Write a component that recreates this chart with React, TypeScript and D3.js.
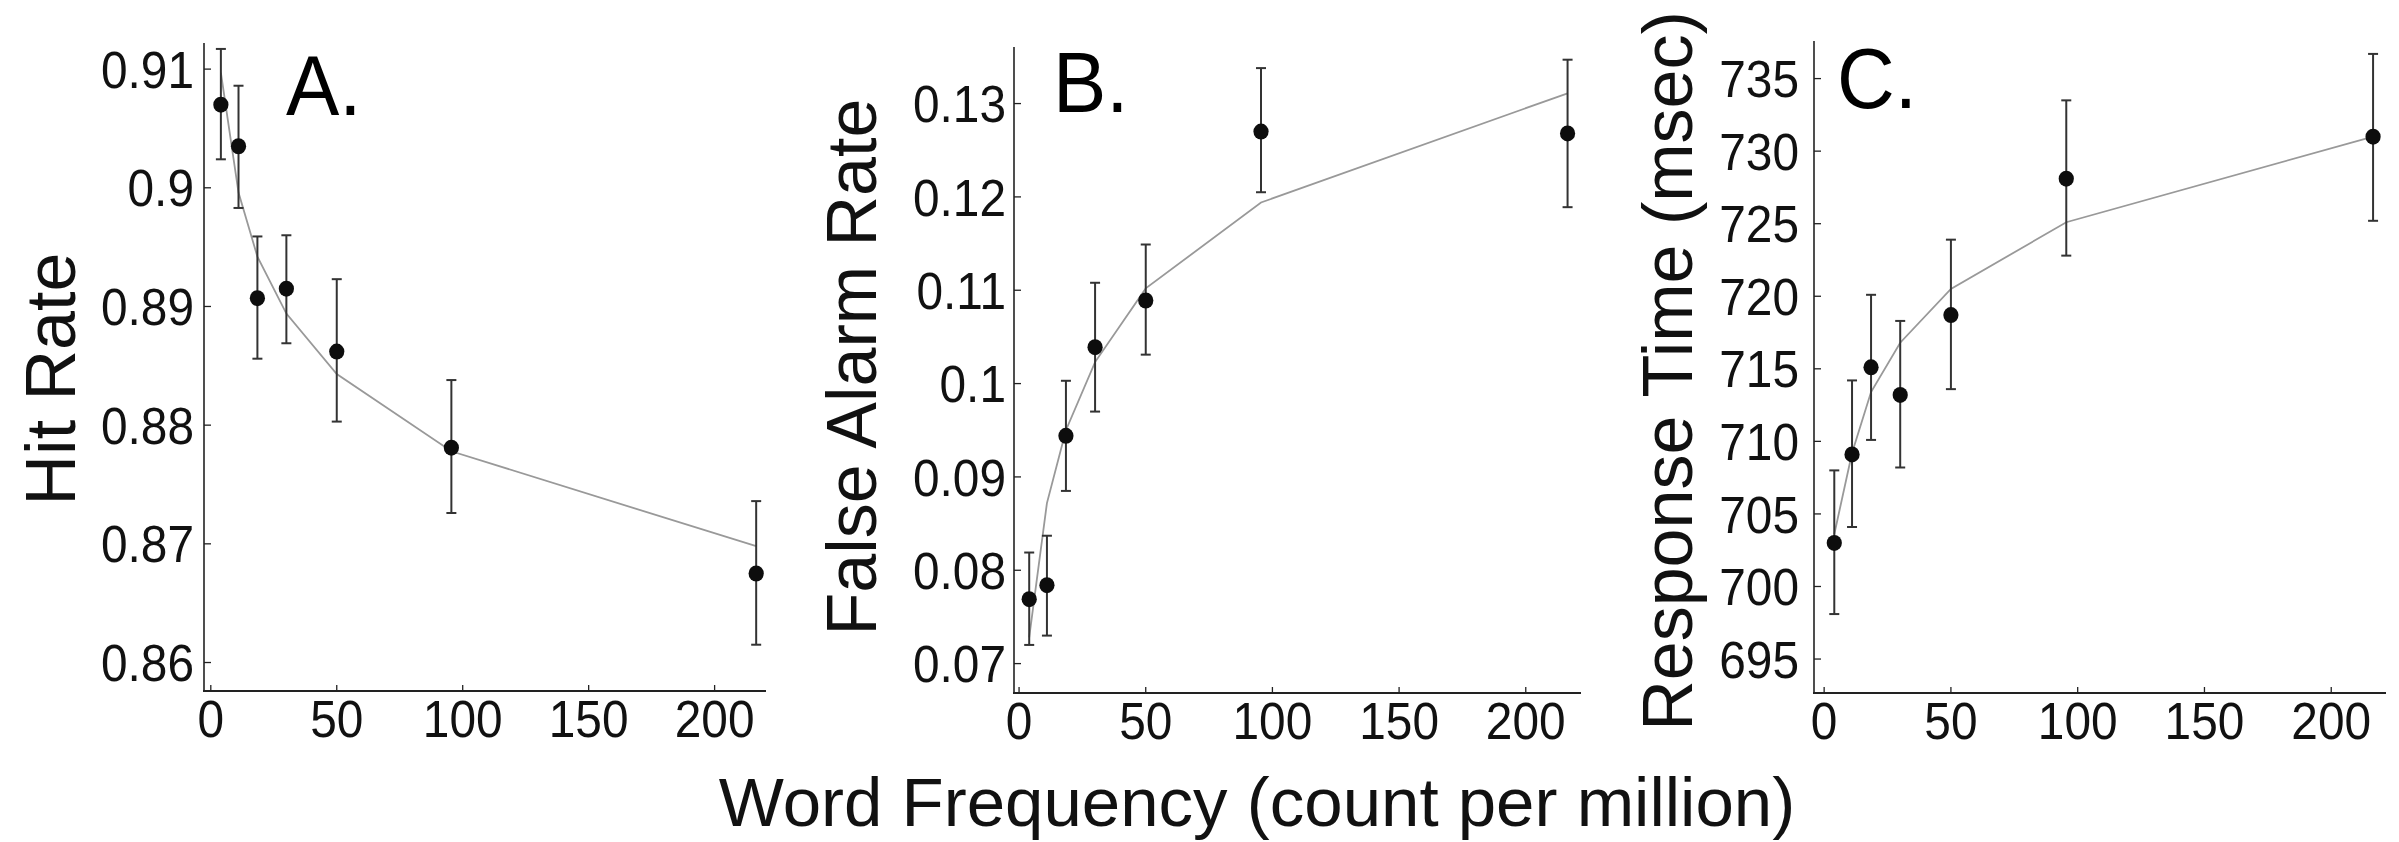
import React from 'react';
import * as d3 from 'd3';

// ---- data ----
const freq = [4, 11, 18.5, 30, 50, 95.5, 216.5];
const xTicks = [0, 50, 100, 150, 200];

const hitRate = [0.907, 0.9035, 0.8907, 0.8915, 0.8862, 0.8781, 0.8675];
const hitLo = [0.9024, 0.8983, 0.8856, 0.8869, 0.8803, 0.8726, 0.8615];
const hitHi = [0.9117, 0.9086, 0.8959, 0.896, 0.8923, 0.8838, 0.8736];
const hitModel = [0.9097, 0.8996, 0.8942, 0.8894, 0.8843, 0.8778, 0.8698];
const hitTicks = [0.86, 0.87, 0.88, 0.89, 0.9, 0.91];
const hitTickLabels = ['0.86', '0.87', '0.88', '0.89', '0.9', '0.91'];

const faRate = [0.0769, 0.0784, 0.0944, 0.1039, 0.1089, 0.127, 0.1268];
const faLo = [0.072, 0.073, 0.0885, 0.097, 0.1031, 0.1205, 0.1189];
const faHi = [0.0819, 0.0837, 0.1003, 0.1108, 0.1149, 0.1338, 0.1347];
const faModel = [0.0728, 0.0872, 0.095, 0.1023, 0.1102, 0.1194, 0.1311];
const faTicks = [0.07, 0.08, 0.09, 0.1, 0.11, 0.12, 0.13];
const faTickLabels = ['0.07', '0.08', '0.09', '0.1', '0.11', '0.12', '0.13'];

const rt = [703.0, 709.1, 715.1, 713.2, 718.7, 728.1, 731.0];
const rtLo = [698.1, 704.1, 710.1, 708.2, 713.6, 722.8, 725.2];
const rtHi = [708.0, 714.2, 720.1, 718.3, 723.9, 733.5, 736.7];
const rtModel = [703.6, 709.2, 713.4, 716.8, 720.5, 725.1, 731.0];
const rtTicks = [695, 700, 705, 710, 715, 720, 725, 730, 735];
const rtTickLabels = rtTicks.map(String);

const panelLetters = ['A.', 'B.', 'C.'];
const yTitles = ['Hit Rate', 'False Alarm Rate', 'Response Time (msec)'];
const xTitle = 'Word Frequency (count per million)';

// ---- layout ----
const FONT = '"Liberation Sans", Arial, Helvetica, sans-serif';
const layouts = [
  { left: 204, right: 766, top: 43, bottom: 691, xDomain: [-2.7, 220.4], yDomain: [0.8576, 0.9122], labelGap: 10, titleX: 75, titleY: 379, letterX: 286, letterY: 115 },
  { left: 1014, right: 1581, top: 47, bottom: 693, xDomain: [-2.0, 221.8], yDomain: [0.06685, 0.13606], labelGap: 8, titleX: 876, titleY: 367, letterX: 1053, letterY: 112 },
  { left: 1814, right: 2386, top: 41, bottom: 693, xDomain: [-4.0, 221.6], yDomain: [692.66, 737.59], labelGap: 15, titleX: 1692, titleY: 371, letterX: 1837, letterY: 108 },
];

const series = [
  { vals: hitRate, lo: hitLo, hi: hitHi, model: hitModel, ticks: hitTicks, tickLabels: hitTickLabels },
  { vals: faRate, lo: faLo, hi: faHi, model: faModel, ticks: faTicks, tickLabels: faTickLabels },
  { vals: rt, lo: rtLo, hi: rtHi, model: rtModel, ticks: rtTicks, tickLabels: rtTickLabels },
];

function Panel({ i }: { i: number }) {
  const L = layouts[i];
  const S = series[i];
  const x = d3.scaleLinear().domain(L.xDomain).range([L.left, L.right]);
  const y = d3.scaleLinear().domain(L.yDomain).range([L.bottom, L.top]);
  const line = d3
    .line<number>()
    .x((_, k) => x(freq[k]))
    .y((d) => y(d));
  return (
    <g>
      {/* axes */}
      <line x1={L.left} x2={L.left} y1={L.top} y2={L.bottom} stroke="#222" strokeWidth={1.6} />
      <line x1={L.left - 1} x2={L.right} y1={L.bottom} y2={L.bottom} stroke="#222" strokeWidth={2.2} />
      {S.ticks.map((t, k) => (
        <g key={'yt' + k}>
          <line x1={L.left} x2={L.left + 7} y1={y(t)} y2={y(t)} stroke="#222" strokeWidth={1.3} />
          <text
            transform={`translate(${L.left - L.labelGap},${y(t) + 18.6}) scale(0.92,1)`}
            textAnchor="end"
            fontFamily={FONT}
            fontSize={52}
            fill="#111"
          >
            {S.tickLabels[k]}
          </text>
        </g>
      ))}
      {xTicks.map((t, k) => (
        <g key={'xt' + k}>
          <line x1={x(t)} x2={x(t)} y1={L.bottom} y2={L.bottom - 6} stroke="#222" strokeWidth={1.3} />
          <text
            transform={`translate(${x(t)},${L.bottom + 46}) scale(0.92,1)`}
            textAnchor="middle"
            fontFamily={FONT}
            fontSize={52}
            fill="#111"
          >
            {String(t)}
          </text>
        </g>
      ))}
      {/* model line */}
      <path d={line(S.model) || ''} fill="none" stroke="#999" strokeWidth={1.8} />
      {/* error bars */}
      {S.vals.map((v, k) => (
        <g key={'eb' + k} stroke="#333" strokeWidth={2}>
          <line x1={x(freq[k])} x2={x(freq[k])} y1={y(S.lo[k])} y2={y(S.hi[k])} />
          <line x1={x(freq[k]) - 5} x2={x(freq[k]) + 5} y1={y(S.lo[k])} y2={y(S.lo[k])} />
          <line x1={x(freq[k]) - 5} x2={x(freq[k]) + 5} y1={y(S.hi[k])} y2={y(S.hi[k])} />
        </g>
      ))}
      {S.vals.map((v, k) => (
        <ellipse key={'pt' + k} cx={x(freq[k])} cy={y(v)} rx={7.6} ry={8} fill="#0d0d0d" />
      ))}
      {/* titles */}
      <text
        transform={`translate(${L.titleX},${L.titleY}) rotate(-90)`}
        textAnchor="middle"
        fontFamily={FONT}
        fontSize={70}
        fill="#111"
      >
        {yTitles[i]}
      </text>
      <text
        transform={`translate(${L.letterX},${L.letterY}) scale(0.93,1)`}
        fontFamily={FONT}
        fontSize={86}
        fill="#000"
      >
        {panelLetters[i]}
      </text>
    </g>
  );
}

export default function App() {
  return (
    <svg
      width={2399}
      height={842}
      style={{ position: 'absolute', left: 0, top: 0, background: '#fff' }}
    >
      <rect x={0} y={0} width={2399} height={842} fill="#fff" />
      {[0, 1, 2].map((i) => (
        <Panel key={i} i={i} />
      ))}
      <text x={1257} y={826} textAnchor="middle" fontFamily={FONT} fontSize={69} fill="#111">
        {xTitle}
      </text>
    </svg>
  );
}
